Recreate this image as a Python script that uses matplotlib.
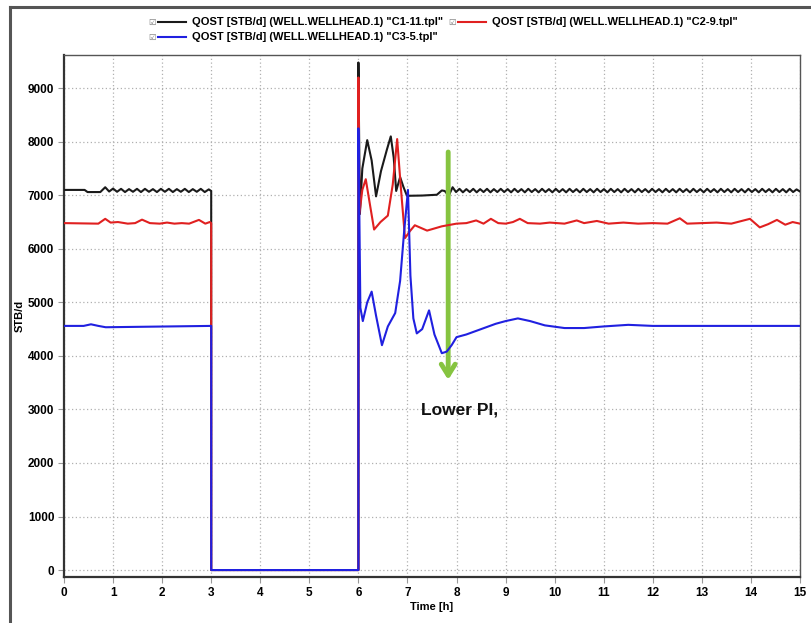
import numpy as np
import matplotlib
matplotlib.use("Agg")
import matplotlib.pyplot as plt
from matplotlib.lines import Line2D

# black: C1-11
black_pre_t = [0.0, 0.42, 0.48, 0.74, 0.84, 0.92]
black_pre_v = [7100, 7100, 7060, 7060, 7150, 7070]
black_wig1_v = [7125, 7065, 7120, 7060, 7115, 7065, 7120, 7060, 7120, 7065,
                7115, 7060, 7120, 7065, 7120, 7060, 7115, 7065, 7120, 7060,
                7115, 7065, 7120, 7060, 7110]
black_mid_t = [3.0, 3.0, 6.0, 6.0, 6.03, 6.08, 6.18, 6.27, 6.36, 6.46, 6.58,
               6.66, 6.72, 6.77, 6.85, 6.92, 6.99, 7.3, 7.6, 7.7, 7.76, 7.84]
black_mid_v = [7080, 0, 0, 9480, 6650, 7500, 8030, 7650, 6980, 7450, 7850,
               8100, 7700, 7080, 7340, 7150, 6990, 6995, 7010, 7090, 7080, 6990]
black_wig2_v = [7150, 7060, 7120, 7055, 7115, 7060, 7120, 7055, 7115, 7060,
                7120, 7055, 7115, 7060, 7120, 7060, 7115, 7055, 7120, 7060,
                7115, 7055, 7120, 7060, 7115, 7055, 7120, 7060, 7115, 7055,
                7120, 7060, 7115, 7055, 7120, 7060, 7115, 7055, 7120, 7060,
                7115, 7055, 7120, 7060, 7115, 7055, 7120, 7060, 7115, 7055,
                7120, 7060, 7115, 7055, 7120, 7060, 7115, 7055, 7120, 7060,
                7115, 7055, 7120, 7060, 7115, 7055, 7120, 7060, 7115, 7055,
                7120, 7060, 7115, 7055, 7120, 7060, 7115, 7055, 7120, 7060,
                7115, 7055, 7120, 7060, 7115, 7055, 7120, 7060, 7115, 7055,
                7120, 7060, 7115, 7055, 7120, 7060, 7115, 7055, 7120, 7060,
                7110, 7070]

# red: C2-9
red_t = [0.0, 0.7, 0.84, 0.95, 1.1, 1.3, 1.45, 1.59, 1.75, 1.95,
         2.1, 2.25, 2.4, 2.55, 2.75, 2.88, 2.97, 3.0, 3.0, 6.0,
         6.0, 6.02, 6.08, 6.15, 6.24, 6.32, 6.45, 6.6, 6.7, 6.79,
         6.86, 6.95, 7.05, 7.15, 7.4, 7.7, 8.0, 8.2, 8.4, 8.55,
         8.7, 8.85, 9.0, 9.15, 9.29, 9.45, 9.7, 9.9, 10.2, 10.45,
         10.6, 10.86, 11.1, 11.4, 11.7, 12.0, 12.3, 12.55, 12.7, 13.0,
         13.3, 13.6, 13.98, 14.18, 14.35, 14.53, 14.7, 14.85, 15.0]
red_v = [6480, 6470, 6560, 6490, 6500, 6470, 6480, 6545, 6480, 6470,
         6490, 6470, 6480, 6470, 6540, 6470, 6500, 6480, 0, 0,
         9200, 6650, 7100, 7300, 6800, 6360, 6500, 6620, 7200, 8050,
         7200, 6200, 6330, 6440, 6340, 6420, 6470, 6480, 6530, 6470,
         6560, 6480, 6470, 6500, 6560, 6480, 6470, 6490, 6470, 6530,
         6480, 6520, 6470, 6490, 6470, 6480, 6470, 6570, 6470, 6480,
         6490, 6470, 6560, 6400, 6460, 6540, 6450, 6500, 6470]

# blue: C3-5
blue_t = [0.0, 0.4, 0.55, 0.7, 0.85, 3.0, 3.0, 6.0, 6.0, 6.04,
          6.09, 6.18, 6.27, 6.36, 6.48, 6.6, 6.75, 6.85, 6.93, 7.01,
          7.06, 7.12, 7.19, 7.3, 7.44, 7.55, 7.7, 7.8, 7.9, 8.0,
          8.2, 8.5, 8.8, 9.0, 9.25, 9.5, 9.8, 10.2, 10.6, 11.0,
          11.5, 12.0, 13.0, 14.0, 15.0]
blue_v = [4560, 4560, 4590, 4560, 4535, 4560, 0, 0, 8250, 4900,
          4650, 5000, 5200, 4750, 4200, 4550, 4800, 5400, 6300, 7100,
          5500, 4700, 4420, 4500, 4850, 4400, 4050, 4080, 4200, 4350,
          4400, 4500, 4600, 4650, 4700, 4650, 4570, 4520, 4520, 4550,
          4580, 4560, 4560, 4560, 4560]

legend_labels = ['QOST [STB/d] (WELL.WELLHEAD.1) "C1-11.tpl"',
                 'QOST [STB/d] (WELL.WELLHEAD.1) "C2-9.tpl"',
                 'QOST [STB/d] (WELL.WELLHEAD.1) "C3-5.tpl"']

black_t = (black_pre_t + list(np.linspace(1.0, 2.95, len(black_wig1_v)))
           + black_mid_t + list(np.linspace(7.92, 15.0, len(black_wig2_v))))
black_v = black_pre_v + black_wig1_v + black_mid_v + black_wig2_v

plt.rcParams['font.family'] = ['Liberation Sans', 'DejaVu Sans']

fig = plt.figure(figsize=(8.12, 6.23), dpi=100)
ax = fig.add_axes([64 / 812, 1 - 577 / 623, 736 / 812, 522 / 623])

ax.plot(black_t, black_v, color='#1a1a1a', lw=1.5, zorder=3)
ax.plot(red_t, red_v, color='#e02020', lw=1.5, zorder=4)
ax.plot(blue_t, blue_v, color='#2020e0', lw=1.5, zorder=5)

ax.set_xlim(0, 15)
ax.set_ylim(-130, 9620)
ax.set_xticks(range(0, 16))
ax.set_yticks(range(0, 10000, 1000))
ax.grid(True, color='#b0b0b0', linestyle=(0, (1, 2)), lw=0.9)
ax.tick_params(labelsize=8.5, length=4, color='#999999', pad=3)
for lab in ax.get_xticklabels() + ax.get_yticklabels():
    lab.set_fontweight('bold')
for s in ['left', 'bottom']:
    ax.spines[s].set_linewidth(1.6)
    ax.spines[s].set_color('#333333')
for s in ['top', 'right']:
    ax.spines[s].set_linewidth(1.0)
    ax.spines[s].set_color('#555555')

ax.set_xlabel("Time [h]", fontsize=8, fontweight='bold', labelpad=2)
ax.set_ylabel("STB/d", fontsize=8, fontweight='bold', labelpad=2)

# green arrow and note
ax.annotate('', xy=(7.83, 3500), xytext=(7.83, 7860),
            arrowprops=dict(arrowstyle='->,head_length=0.8,head_width=0.5',
                            lw=3.5, color='#86c440'))
ax.text(8.07, 2990, "Lower PI,", fontsize=12.5, fontweight='bold',
        ha='center', va='center', color='#111111')

# legend drawn on figure
rows = [(152, 22, '#1a1a1a', legend_labels[0]),
        (452, 22, '#e02020', legend_labels[1]),
        (152, 37, '#2020e0', legend_labels[2])]
for px, py, col, lab in rows:
    y = 1 - py / 623
    fig.text(px / 812, y, '\u2611', fontsize=6, color='#777777',
             family='DejaVu Sans', ha='center', va='center')
    fig.add_artist(Line2D([(px + 6) / 812, (px + 34) / 812], [y, y],
                          color=col, lw=1.5))
    fig.text((px + 40) / 812, y, lab, fontsize=8, fontweight='bold',
             ha='left', va='center')

# outer frame
fig.add_artist(Line2D([10 / 812, 1], [1 - 7 / 623, 1 - 7 / 623],
                      color='#555555', lw=2.2))
fig.add_artist(Line2D([10 / 812, 10 / 812], [0, 1 - 7 / 623],
                      color='#555555', lw=2.2))

fig.savefig("out.png", dpi=100)
